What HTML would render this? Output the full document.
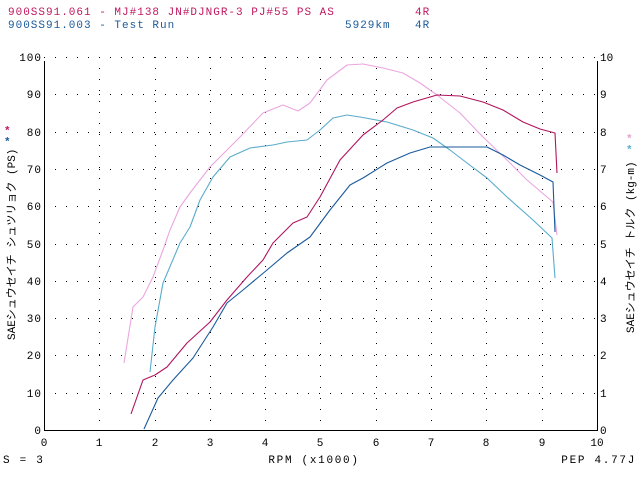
<!DOCTYPE html>
<html><head><meta charset="utf-8"><style>
html,body{margin:0;padding:0;background:#fff;}
svg{display:block;}
text{font-family:"Liberation Mono","Noto Sans CJK JP",monospace;font-size:11px;}
.w{letter-spacing:1.7px;}
.h{letter-spacing:1px;}
</style></head><body>
<svg width="640" height="480" viewBox="0 0 640 480" xmlns="http://www.w3.org/2000/svg">
<rect width="640" height="480" fill="#fff"/>
<text class="h" x="8" y="15" fill="#c01860">900SS91.061 - MJ#138 JN#DJNGR-3 PJ#55 PS AS</text>
<text class="h" x="415" y="15" fill="#c01860">4R</text>
<text class="h" x="8" y="28" fill="#1c5a9a">900SS91.003 - Test Run</text>
<text class="h" x="345" y="28" fill="#1c5a9a">5929km</text>
<text class="h" x="415" y="28" fill="#1c5a9a">4R</text>
<g stroke="#000" stroke-width="1" stroke-dasharray="1 10" fill="none">
<path d="M99.5 57V430M155.5 57V430M210.5 57V430M265.5 57V430M320.5 57V430M376.5 57V430M431.5 57V430M486.5 57V430M542.5 57V430"/>
<path d="M44 57.5H597M44 94.5H597M44 132.5H597M44 169.5H597M44 206.5H597M44 244.5H597M44 281.5H597M44 318.5H597M44 355.5H597M44 393.5H597"/>
</g>
<path d="M44.5 61V430.5H597.5V61" stroke="#000" fill="none"/>
<g text-anchor="end" fill="#000" class="h">
<text x="42" y="61">100</text><text x="42" y="98">90</text><text x="42" y="136">80</text><text x="42" y="173">70</text><text x="42" y="210">60</text><text x="42" y="248">50</text><text x="42" y="285">40</text><text x="42" y="322">30</text><text x="42" y="359">20</text><text x="42" y="397">10</text><text x="42" y="434">0</text>
</g>
<g fill="#000">
<text x="600" y="61">10</text><text x="600" y="98">9</text><text x="600" y="136">8</text><text x="600" y="173">7</text><text x="600" y="210">6</text><text x="600" y="248">5</text><text x="600" y="285">4</text><text x="600" y="322">3</text><text x="600" y="359">2</text><text x="600" y="397">1</text><text x="600" y="434">0</text>
</g>
<g text-anchor="middle" fill="#000">
<text x="44" y="446">0</text><text x="99" y="446">1</text><text x="155" y="446">2</text><text x="210" y="446">3</text><text x="265" y="446">4</text><text x="320" y="446">5</text><text x="376" y="446">6</text><text x="431" y="446">7</text><text x="486" y="446">8</text><text x="542" y="446">9</text><text x="597" y="446">10</text>
<text class="w" x="314" y="463">RPM (x1000)</text>
</g>
<text class="w" x="3" y="463">S = 3</text>
<text class="w" x="636" y="463" text-anchor="end">PEP 4.77J</text>
<text x="4" y="134" fill="#c01860" font-size="14" font-weight="bold">*</text>
<text x="4" y="145" fill="#1c5a9a" font-size="14" font-weight="bold">*</text>
<text x="626" y="142" fill="#e8a0d8" font-size="14" font-weight="bold">*</text>
<text x="626" y="153" fill="#5ab0d0" font-size="14" font-weight="bold">*</text>
<text transform="translate(15,340) rotate(-90)" fill="#000" font-size="10">SAEシュウセイチ シュツリョク (PS)</text>
<text transform="translate(634,333) rotate(-90)" fill="#000" font-size="10">SAEシュウセイチ トルク (kg-m)</text>
<g fill="none" stroke-width="1.1" stroke-linejoin="round">
<polyline stroke="#eaa6e0" points="124,363 133,307 143,297 153,277 163,250 170,230 180,207 190,193 210,167 240,137 263,113 283,105 298,111 310,103 327,80 347,65 363,64 383,68 403,73 420,83 437,95 460,113 483,137 507,160 527,180 547,197 553,202 557,235"/>
<polyline stroke="#5aaccc" points="150,372 155,327 163,283 180,243 190,227 200,200 213,177 230,157 250,148 273,145 287,142 307,140 320,130 333,118 347,115 360,117 387,122 413,130 433,138 450,150 467,163 487,178 507,197 533,220 552,238 555,278"/>
<polyline stroke="#b0145e" points="131,414 143,380 155,375 167,367 187,343 210,322 227,300 247,277 263,260 273,243 293,223 307,217 320,197 340,160 363,135 383,120 397,108 413,102 437,95 460,96 483,102 503,110 523,122 540,129 555,133 557,173"/>
<polyline stroke="#1a5a9c" points="144,429 158,398 173,380 193,358 213,327 227,303 243,290 267,270 287,253 310,237 330,210 350,185 363,178 387,163 410,153 430,147 450,147 487,147 503,155 520,165 540,175 553,182 555,232"/>
</g>
</svg>
</body></html>
